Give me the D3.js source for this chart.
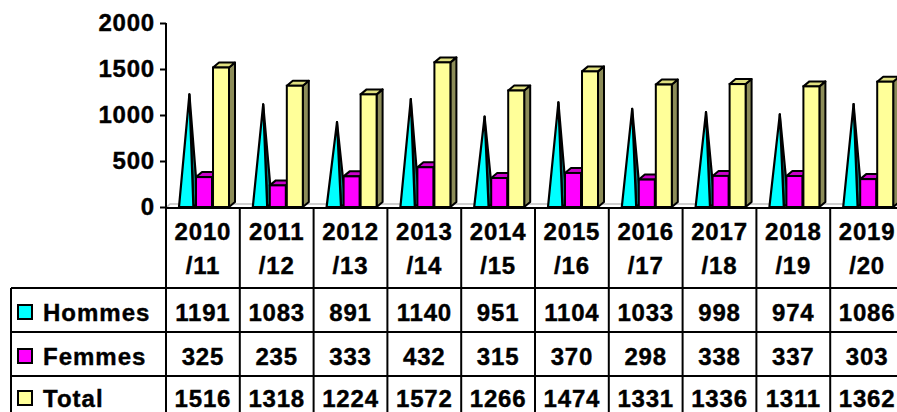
<!DOCTYPE html>
<html>
<head>
<meta charset="utf-8">
<script src="https://cdn.jsdelivr.net/npm/d3@7"></script>
<style>
  html, body { margin: 0; padding: 0; background: #fff; overflow: hidden; }
  text { font-family: "Liberation Sans", Arial, sans-serif; font-weight: bold; fill: #000; stroke: #000; stroke-width: 0.4px; }
</style>
</head>
<body>
<svg id="chart"></svg>
<script>
const years = ["2010/11", "2011/12", "2012/13", "2013/14", "2014/15", "2015/16", "2016/17", "2017/18", "2018/19", "2019/20"];
const hommes = [1191, 1083, 891, 1140, 951, 1104, 1033, 998, 974, 1086];
const femmes = [325, 235, 333, 432, 315, 370, 298, 338, 337, 303];
const total = [1516, 1318, 1224, 1572, 1266, 1474, 1331, 1336, 1311, 1362];
const yTicks = [0, 500, 1000, 1500, 2000];

const series = [
    { name: "Hommes", values: hommes, color: "#00FFFF", top: "#00CCCC", side: "#008080" },
    { name: "Femmes", values: femmes, color: "#FF00FF", top: "#CC00CC", side: "#800080" },
    { name: "Total", values: total, color: "#FFFF99", top: "#E0E080", side: "#8C8C58" }
];

const width = 897;
const height = 412;
const plotLeft = 166;
const plotRight = 904;
const y0 = 207;
const dx = 6, dy = -5;

const svg = d3.select("#chart")
    .attr("width", width)
    .attr("height", height);

const x = d3.scaleBand()
    .domain(years)
    .range([plotLeft, plotRight]);

const xs = d3.scaleBand()
    .domain(series.map(s => s.name))
    .range([13, 63])
    .paddingInner(0.06);

const y = d3.scaleLinear()
    .domain([0, 2000])
    .range([y0, 23]);

// floor
svg.append("path")
    .attr("d", `M${plotLeft},208 L${plotLeft + 4},204 L${plotRight + 4},204`)
    .attr("fill", "none")
    .attr("stroke", "#C0C0C0")
    .attr("stroke-width", 1.5);

// y axis
const yAxis = svg.append("g")
    .attr("transform", `translate(${plotLeft},0)`)
    .call(d3.axisLeft(y).tickValues(yTicks).tickFormat(d3.format("d")).tickSize(6).tickPadding(5).tickSizeOuter(0));
yAxis.select(".domain").attr("stroke", "#000").attr("stroke-width", 2)
    .attr("d", `M0,${y(2000)}V208`);
yAxis.selectAll(".tick line").attr("stroke", "#000").attr("stroke-width", 2);
yAxis.selectAll(".tick text")
    .attr("font-size", 24)
    .attr("letter-spacing", 0.8)
    .attr("font-family", "'Liberation Sans', Arial, sans-serif")
    .attr("font-weight", "bold")
    .attr("fill", "#000");

// bars
const groups = svg.append("g").selectAll("g")
    .data(years)
    .join("g")
    .attr("transform", d => `translate(${x(d)},0)`);

groups.each(function(year, i) {
    const g = d3.select(this);
    series.forEach(s => {
        const v = s.values[i];
        const sx = xs(s.name);
        const sw = xs.bandwidth();
        const yv = y(v);
        if (s.name === "Hommes") {
            const ax = sx + sw * 0.65;
            const ay = yv - 3;
            g.append("path")
                .attr("d", `M${ax},${ay} L${sx + sw * 0.9},${y0} L${sx + sw + 3},${y0 - 4} Z`)
                .attr("fill", s.side)
                .attr("stroke", "#000").attr("stroke-width", 2.2).attr("stroke-linejoin", "round");
            g.append("path")
                .attr("d", `M${sx},${y0} L${ax},${ay} L${sx + sw * 0.9},${y0} Z`)
                .attr("fill", s.color)
                .attr("stroke", "#000").attr("stroke-width", 2.2).attr("stroke-linejoin", "round");
        } else {
            g.append("path")
                .attr("d", `M${sx + sw},${yv} L${sx + sw + dx},${yv + dy} L${sx + sw + dx},${y0 + dy} L${sx + sw},${y0} Z`)
                .attr("fill", s.side)
                .attr("stroke", "#000").attr("stroke-width", 2).attr("stroke-linejoin", "round");
            g.append("path")
                .attr("d", `M${sx},${yv} L${sx + dx},${yv + dy} L${sx + sw + dx},${yv + dy} L${sx + sw},${yv} Z`)
                .attr("fill", s.top)
                .attr("stroke", "#000").attr("stroke-width", 2).attr("stroke-linejoin", "round");
            g.append("rect")
                .attr("x", sx).attr("y", yv)
                .attr("width", sw).attr("height", y0 - yv)
                .attr("fill", s.color)
                .attr("stroke", "#000").attr("stroke-width", 2);
        }
    });
});

// data table
const rowTops = [288, 332, 376, 420];
const table = svg.append("g");
const lineAttrs = sel => sel.attr("stroke", "#000").attr("stroke-width", 2);

table.append("line").call(lineAttrs)
    .attr("x1", plotLeft - 1).attr("x2", plotRight).attr("y1", 208).attr("y2", 208);
years.forEach((yr, i) => {
    table.append("line").call(lineAttrs)
        .attr("x1", x(yr)).attr("x2", x(yr)).attr("y1", 208).attr("y2", height + 5);
});
table.append("line").call(lineAttrs)
    .attr("x1", 11).attr("x2", 11).attr("y1", rowTops[0]).attr("y2", height + 5);
rowTops.slice(0, 3).forEach(t => {
    table.append("line").call(lineAttrs)
        .attr("x1", 11).attr("x2", plotRight).attr("y1", t).attr("y2", t);
});

// header years
years.forEach(yr => {
    const parts = yr.split("/");
    const cx = x(yr) + x.bandwidth() / 2;
    table.append("text")
        .attr("x", cx).attr("y", 240)
        .attr("text-anchor", "middle")
        .attr("font-size", 24).attr("letter-spacing", 0.8)
        .text(parts[0]);
    table.append("text")
        .attr("x", cx).attr("y", 274)
        .attr("text-anchor", "middle")
        .attr("font-size", 24).attr("letter-spacing", 0.8)
        .text("/" + parts[1]);
});

// rows
const rowBase = [321, 365, 407];
series.forEach((s, r) => {
    const base = rowBase[r];
    table.append("rect")
        .attr("x", 18).attr("y", base - 16)
        .attr("width", 14).attr("height", 14)
        .attr("fill", s.color)
        .attr("stroke", "#000").attr("stroke-width", 2);
    table.append("text")
        .attr("x", 43).attr("y", base)
        .attr("font-size", 24).attr("letter-spacing", 1)
        .text(s.name);
    s.values.forEach((v, i) => {
        table.append("text")
            .attr("x", x(years[i]) + x.bandwidth() / 2)
            .attr("y", base)
            .attr("text-anchor", "middle")
            .attr("font-size", 24).attr("letter-spacing", 0.8)
            .text(v);
    });
});
</script>
</body>
</html>
